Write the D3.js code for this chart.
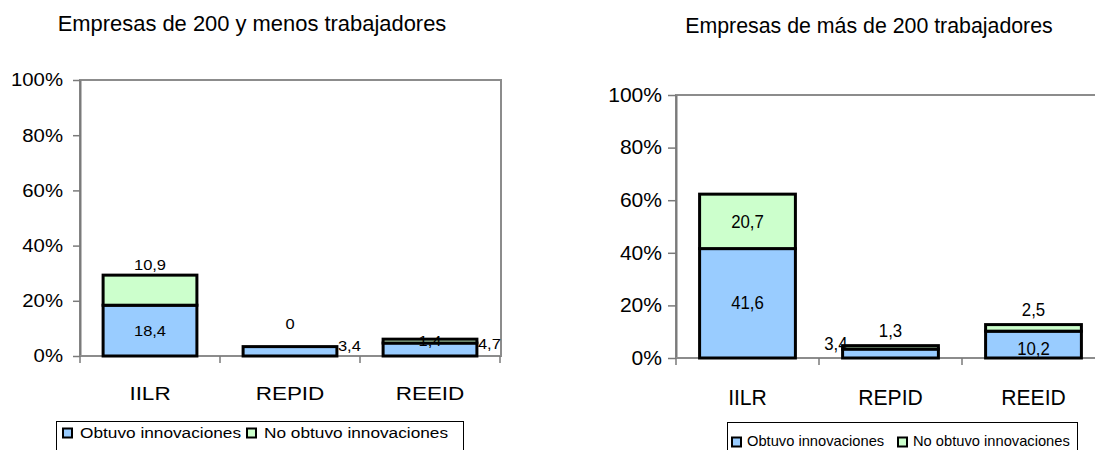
<!DOCTYPE html>
<html lang="es">
<head>
<meta charset="utf-8">
<title>Innovaciones por tamaño de empresa</title>
<script src="https://cdn.jsdelivr.net/npm/d3@7"></script>
<style>
  body { margin: 0; background: #fff; }
  text { font-family: "Liberation Sans", Arial, sans-serif; fill: #000; }
</style>
</head>
<body>
<script>
// categories and series
var categories = ["IILR", "REPID", "REEID"];
var seriesNames = ["Obtuvo innovaciones", "No obtuvo innovaciones"];

// Empresas de 200 y menos trabajadores
var smallObtuvo = [18.4, 3.4, 4.7];
var smallNoObtuvo = [10.9, 0, 1.4];

// Empresas de más de 200 trabajadores
var largeObtuvo = [41.6, 3.4, 10.2];
var largeNoObtuvo = [20.7, 1.3, 2.5];

var yTicks = [0, 20, 40, 60, 80, 100];
var titles = ["Empresas de 200 y menos trabajadores", "Empresas de más de 200 trabajadores"];

// where Excel put each value label (by series, by category)
var smallLabelModes = [["in", "right", "right"], ["above", "high", "in"]];
var largeLabelModes = [["in", "left", "low"], ["in", "above", "above"]];

var colors = ["#99ccff", "#ccffcc"];
var fmt = d3.formatLocale({ decimal: ",", thousands: ".", grouping: [3], currency: ["", ""] }).format(".1~f");

var svg = d3.select("body").append("svg")
  .attr("width", 1095)
  .attr("height", 450);

// text with a horizontal stretch, as in the original picture
function stext(g, x, y, str, fs, sx, anchor) {
  return g.append("text")
    .attr("transform", "translate(" + x + "," + y + ") scale(" + sx + ",1)")
    .attr("text-anchor", anchor || "middle")
    .attr("font-size", fs)
    .text(str);
}

function drawChart(cfg) {
  var g = svg.append("g");

  var x = d3.scaleBand()
    .domain(categories)
    .range([cfg.x0, cfg.x1])
    .paddingInner(0.33)
    .paddingOuter(0.165);

  var y = d3.scaleLinear()
    .domain([0, 100])
    .range([cfg.yBot, cfg.yTop]);

  // title
  stext(g, cfg.title.x, cfg.title.y, cfg.titleText, cfg.title.fs, cfg.title.sx);

  // plot area frame
  g.append("rect")
    .attr("x", cfg.x0)
    .attr("y", y(100))
    .attr("width", cfg.frameRight - cfg.x0)
    .attr("height", y(0) - y(100))
    .attr("fill", "none")
    .attr("stroke", "#8c8c8c")
    .attr("stroke-width", 2);

  // y axis
  var yAxis = g.append("g")
    .attr("transform", "translate(" + cfg.x0 + ",0)")
    .call(d3.axisLeft(y).tickValues(yTicks).tickSize(cfg.yTickLen).tickSizeOuter(0)
      .tickFormat(function(d) { return d + "%"; }));
  yAxis.select(".domain").attr("stroke", "#7a7a7a").attr("stroke-width", 2);
  yAxis.selectAll(".tick line").attr("stroke", "#7a7a7a").attr("stroke-width", 1.5);
  yAxis.selectAll(".tick text")
    .attr("font-family", null)
    .attr("font-size", cfg.yFont.fs)
    .attr("x", -cfg.yFont.gap / cfg.yFont.sx)
    .attr("transform", "scale(" + cfg.yFont.sx + ",1)")
    .attr("fill", "#000");

  // x axis line and category separators
  var step = x.step();
  var bounds = d3.range(categories.length + 1).map(function(i) { return cfg.x0 + i * step; });
  g.append("line")
    .attr("x1", cfg.x0).attr("x2", cfg.frameRight)
    .attr("y1", y(0)).attr("y2", y(0))
    .attr("stroke", "#8c8c8c").attr("stroke-width", 2);
  g.selectAll(".xtick")
    .data(bounds)
    .enter()
    .append("line")
    .attr("x1", function(d) { return d; })
    .attr("x2", function(d) { return d; })
    .attr("y1", y(0))
    .attr("y2", y(0) + 7)
    .attr("stroke", "#7a7a7a")
    .attr("stroke-width", 1.5);

  categories.forEach(function(c) {
    stext(g, x(c) + x.bandwidth() / 2, cfg.xFont.y, c, cfg.xFont.fs, cfg.xFont.sx);
  });

  // stacked bars
  var rows = categories.map(function(c, i) {
    return { cat: c, s0: cfg.values[0][i], s1: cfg.values[1][i] };
  });
  var stacked = d3.stack().keys(["s0", "s1"])(rows);

  stacked.forEach(function(layer, si) {
    g.selectAll(".bar" + si)
      .data(layer)
      .enter()
      .append("rect")
      .attr("x", function(d) { return x(d.data.cat); })
      .attr("y", function(d) { return y(d[1]); })
      .attr("width", x.bandwidth())
      .attr("height", function(d) { return y(d[0]) - y(d[1]); })
      .attr("fill", colors[si])
      .attr("stroke", "#000")
      .attr("stroke-width", 3);
  });

  // value labels
  var lf = cfg.labelFont;
  stacked.forEach(function(layer, si) {
    layer.forEach(function(d, ci) {
      var mode = cfg.labelModes[si][ci];
      var left = x(d.data.cat), right = left + x.bandwidth(), mid = left + x.bandwidth() / 2;
      var top = y(d[1]), bottom = y(d[0]), cy = (top + bottom) / 2;
      var barTop = y(d.data.s0 + d.data.s1);
      var lx = mid, ly = cy, anchor = "middle";
      if (mode === "above") { ly = barTop - lf.above; }
      if (mode === "high") { ly = barTop - lf.above - 13; }
      if (mode === "right") { lx = right + 1; ly = cy - 6; anchor = "start"; }
      if (mode === "left") { lx = left + 5; ly = cy - 10; anchor = "end"; }
      if (mode === "low") { ly = cy + 4; }
      stext(g, lx, ly, fmt(d.data[si === 0 ? "s0" : "s1"]), lf.fs, lf.sx, anchor)
        .attr("dy", "0.35em");
    });
  });

  // legend
  var lg = cfg.legend;
  g.append("rect")
    .attr("x", lg.x).attr("y", lg.y)
    .attr("width", lg.w).attr("height", 32)
    .attr("fill", "#fff")
    .attr("stroke", "#000")
    .attr("stroke-width", 1);
  seriesNames.forEach(function(name, i) {
    g.append("rect")
      .attr("x", lg.items[i]).attr("y", lg.sy)
      .attr("width", 9).attr("height", 9)
      .attr("fill", colors[i])
      .attr("stroke", "#000")
      .attr("stroke-width", 2);
    stext(g, lg.items[i] + lg.tx, lg.ty, name, lg.fs, lg.sx, "start");
  });
}

drawChart({
  titleText: titles[0],
  title: { x: 252, y: 31, fs: 21.5, sx: 1.02 },
  x0: 80, x1: 500, frameRight: 501,
  yTop: 80, yBot: 356,
  yTickLen: 7,
  yFont: { fs: 18.5, sx: 1.1, gap: 17 },
  xFont: { y: 400, fs: 18, sx: 1.25 },
  labelFont: { fs: 15, sx: 1.1, above: 10 },
  values: [smallObtuvo, smallNoObtuvo],
  labelModes: smallLabelModes,
  legend: { x: 56.5, y: 421.5, w: 407, items: [63, 247], sy: 428.5, tx: 17, ty: 438, fs: 15, sx: 1.15 }
});

drawChart({
  titleText: titles[1],
  title: { x: 869, y: 33, fs: 22, sx: 0.97 },
  x0: 676, x1: 1105, frameRight: 1105,
  yTop: 95, yBot: 358,
  yTickLen: 8,
  yFont: { fs: 19.5, sx: 1.08, gap: 14 },
  xFont: { y: 405, fs: 22, sx: 0.96 },
  labelFont: { fs: 17.5, sx: 0.96, above: 15 },
  values: [largeObtuvo, largeNoObtuvo],
  labelModes: largeLabelModes,
  legend: { x: 727.5, y: 422.5, w: 350, items: [732, 898], sy: 437.5, tx: 15, ty: 446, fs: 14, sx: 1.05 }
});
</script>
</body>
</html>
